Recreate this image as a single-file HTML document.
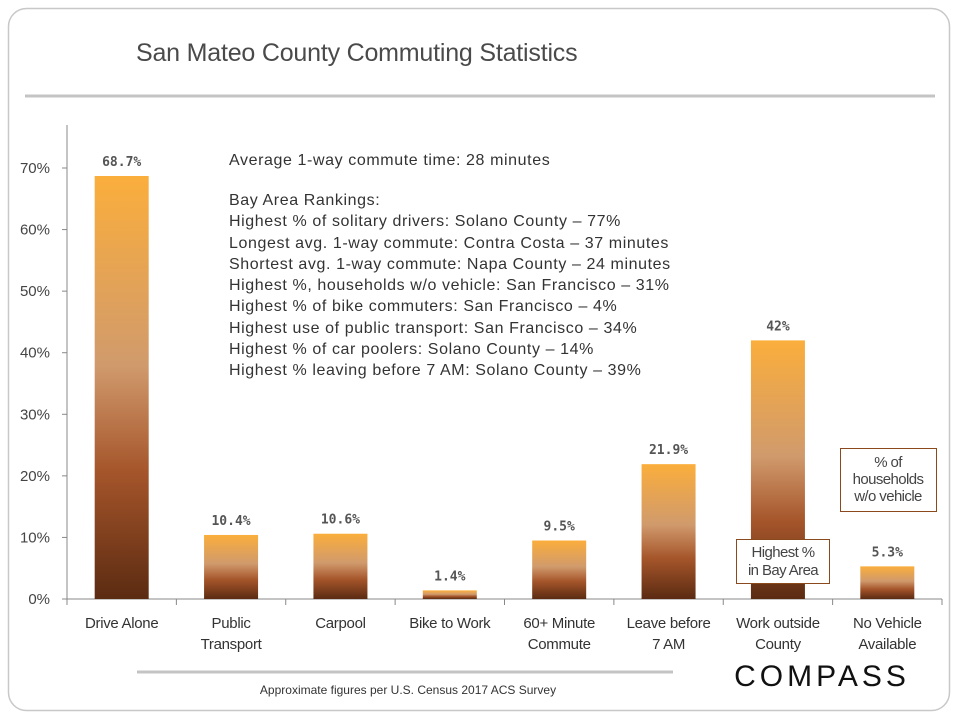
<!DOCTYPE html>
<html><head><meta charset="utf-8"><style>
body{margin:0;background:#fff;font-family:"Liberation Sans",sans-serif;}
#wrap{position:relative;width:960px;height:720px;overflow:hidden;}
</style></head><body>
<div id="wrap">
<svg id="svg" width="960" height="720" xmlns="http://www.w3.org/2000/svg">
<defs>
<linearGradient id="g" x1="0" y1="0" x2="0" y2="1">
<stop offset="0" stop-color="#fbae3c"/>
<stop offset="0.45" stop-color="#d09a6c"/>
<stop offset="0.7" stop-color="#a5552a"/>
<stop offset="1" stop-color="#5b2b12"/>
</linearGradient>
</defs>
<rect x="8.5" y="8.5" width="941" height="702" rx="18" fill="#fff" stroke="#c8c8c8" stroke-width="1.5"/>
<text x="136" y="61" font-size="25" fill="#4a4a4a" letter-spacing="-0.2">San Mateo County Commuting Statistics</text>
<line x1="25" y1="96" x2="935" y2="96" stroke="#c4c4c4" stroke-width="3"/>
<g id="plot"></g>
<g font-size="16" fill="#333" letter-spacing="0.6">
<text x="229" y="165">Average 1-way commute time: 28 minutes</text>
<text x="229" y="205">Bay Area Rankings:</text>
<text x="229" y="226">Highest % of solitary drivers: Solano County – 77%</text>
<text x="229" y="248">Longest avg. 1-way commute: Contra Costa – 37 minutes</text>
<text x="229" y="269">Shortest avg. 1-way commute: Napa County – 24 minutes</text>
<text x="229" y="290">Highest %, households w/o vehicle: San Francisco – 31%</text>
<text x="229" y="311">Highest % of bike commuters: San Francisco – 4%</text>
<text x="229" y="333">Highest use of public transport: San Francisco – 34%</text>
<text x="229" y="354">Highest % of car poolers: Solano County – 14%</text>
<text x="229" y="375">Highest % leaving before 7 AM: Solano County – 39%</text>
</g>
<g>
<rect x="736.5" y="539.5" width="93" height="44" fill="#fff" stroke="#8a4a1e" stroke-width="1"/>
<text x="783" y="557" font-size="15" fill="#444" text-anchor="middle" letter-spacing="-0.6">Highest %</text>
<text x="783" y="575" font-size="15" fill="#444" text-anchor="middle" letter-spacing="-0.6">in Bay Area</text>
</g>
<g>
<rect x="840.5" y="448.5" width="96" height="63" fill="#fff" stroke="#8a4a1e" stroke-width="1"/>
<text x="888" y="467" font-size="15" fill="#444" text-anchor="middle" letter-spacing="-0.6">% of</text>
<text x="888" y="484" font-size="15" fill="#444" text-anchor="middle" letter-spacing="-0.6">households</text>
<text x="888" y="501" font-size="15" fill="#444" text-anchor="middle" letter-spacing="-0.6">w/o vehicle</text>
</g>
<line x1="137" y1="672" x2="673" y2="672" stroke="#c4c4c4" stroke-width="3"/>
<text x="408" y="694" font-size="12" fill="#333" text-anchor="middle">Approximate figures per U.S. Census 2017 ACS Survey</text>
<text x="822" y="686" font-size="30" fill="#111" text-anchor="middle" letter-spacing="4">COMPASS</text>
</svg>
<script>
const categories=[["Drive Alone"],["Public","Transport"],["Carpool"],["Bike to Work"],["60+ Minute","Commute"],["Leave before","7 AM"],["Work outside","County"],["No Vehicle","Available"]];
const values=[68.7,10.4,10.6,1.4,9.5,21.9,42,5.3];
const valueLabels=["68.7%","10.4%","10.6%","1.4%","9.5%","21.9%","42%","5.3%"];
const yTicks=[0,10,20,30,40,50,60,70];
const NS="http://www.w3.org/2000/svg";
const x0=67,x1=942,y0=599,yTop=168,vTop=70;
const band=(x1-x0)/categories.length;
const X=i=>x0+band*(i+0.5);
const Y=v=>y0-(v/vTop)*(y0-yTop);
const g=document.getElementById('plot');
function mk(t,a){const e=document.createElementNS(NS,t);for(const k in a)e.setAttribute(k,a[k]);g.appendChild(e);return e;}
let ax=mk('line',{x1:x0,y1:125,x2:x0,y2:y0,stroke:'#888','stroke-width':1});


let bx=mk('line',{x1:x0,y1:y0,x2:x1,y2:y0,stroke:'#888','stroke-width':1});


yTicks.forEach(v=>{
 let t=mk('line',{x1:x0-5,y1:Y(v),x2:x0,y2:Y(v),stroke:'#888'});
 
 
 let l=mk('text',{x:50,y:Y(v)+5,'font-size':15,fill:'#444','text-anchor':'end'});
 l.textContent=v+'%';
 
 
});
for(let i=0;i<=categories.length;i++){
 let t=mk('line',{x1:x0+band*i,y1:y0,x2:x0+band*i,y2:y0+6,stroke:'#888'});
 
 
}
values.forEach((v,i)=>{
 const w=54;
 let r=mk('rect',{x:X(i)-w/2,y:Y(v),width:w,height:y0-Y(v),fill:'url(#g)'});
 
 
 let l=mk('text',{x:X(i),y:Y(v)-10,'font-size':13,'font-weight':'bold',fill:'#555','text-anchor':'middle','font-family':'DejaVu Sans Mono, monospace'});
 l.textContent=valueLabels[i];
 
 
 categories[i].forEach((s,j)=>{
  let c=mk('text',{x:X(i),y:628+j*21,'font-size':15,fill:'#333','text-anchor':'middle','letter-spacing':'-0.3'});
  c.textContent=s;
  
  
 });
});
</script>
</div>
</body></html>
